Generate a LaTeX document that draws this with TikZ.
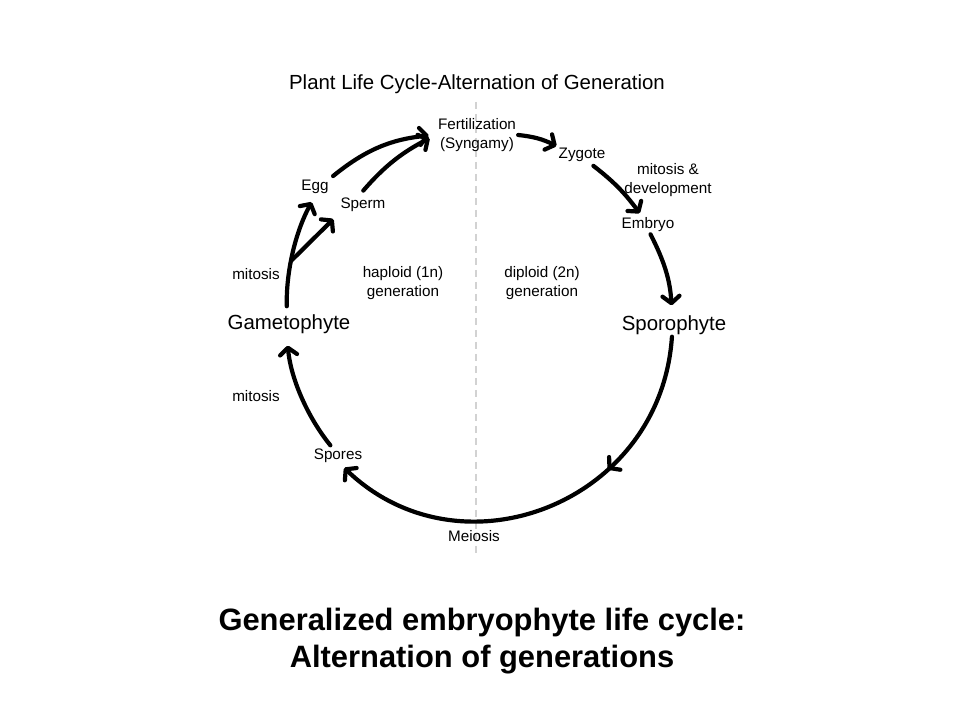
\documentclass[tikz,border=0pt]{standalone}
\usepackage{fontspec}
\setmainfont{Liberation Sans}
\usetikzlibrary{arrows.meta,decorations.markings}

\begin{document}
\begin{tikzpicture}[x=1bp, y=1bp,
        lbl/.style={inner sep=2bp, align=center, font=\fontsize{15.3}{18.4}\selectfont},
        big/.style={inner sep=2bp, font=\fontsize{20.5}{24.6}\selectfont},
        arr/.style={line width=4.2bp, line cap=round, -{Straight Barb[round, length=7bp, width=17bp]}},
        midarr/.style={postaction={decorate}, decoration={markings,
            mark=at position #1 with {\arrow{Straight Barb[round, length=7bp, width=17bp]}}}}]
        \useasboundingbox (0,0) rectangle (960,720);
        % divider between the two generations
        \draw[gray!35, line width=1.2bp, dash pattern=on 7bp off 5bp] (476,618) -- (476,164);
        \node[big] (title) at (477,636) {Plant Life Cycle-Alternation of Generation};
        \node[lbl] (fert) at (477,585) {Fertilization\\(Syngamy)};
        \node[lbl] (zyg) at (582,565) {Zygote};
        \node[lbl] (mitdev) at (668,540) {mitosis \&\\development};
        \node[lbl] (emb) at (648,495) {Embryo};
        \node[big] (sporo) at (674,395) {Sporophyte};
        \node[big] (gam) at (289,396) {Gametophyte};
        \node[lbl] (egg) at (315,533) {Egg};
        \node[lbl] (sperm) at (363,515) {Sperm};
        \node[lbl] (mit1) at (256,446) {mitosis};
        \node[lbl] (hap) at (403,437) {haploid (1n)\\generation};
        \node[lbl] (dip) at (542,437) {diploid (2n)\\generation};
        \node[lbl] (mit2) at (256,324) {mitosis};
        \node[lbl] (spores) at (338,264) {Spores};
        \node[lbl] (meio) at (474,184) {Meiosis};
        \node[align=center, font=\bfseries\fontsize{31}{37}\selectfont] (cap) at (482,79)
            {Generalized embryophyte life cycle:\\Alternation of generations};
        % haploid side
        \draw[arr, shorten <=6bp, shorten >=7bp] (gam.100) to[bend left=15, looseness=.87] coordinate[pos=.43] (fork) (egg.south);
        \draw[arr, shorten >=7bp] (fork) -- (sperm.south west);
        \draw[arr, shorten <=3bp, shorten >=7bp] (egg.north east) to[bend left=17] (fert.west);
        \draw[arr, shorten <=7bp, shorten >=7bp] (sperm.115) to[bend left=11] (fert.west);
        % diploid side
        \draw[arr] (fert.east) to[bend left=10] (zyg.north west);
        \draw[arr, shorten <=3bp, shorten >=3bp] (zyg.-45) to[bend left=8] (emb.125);
        \draw[arr, shorten >=8bp] (emb.-75) to[bend left=12] (sporo.100);
        \draw[arr, midarr=.34, shorten >=4bp] (sporo.-100) to[bend left=65, looseness=1.2] (spores.-70);
        \draw[arr, shorten <=2bp, shorten >=10bp] (spores.125) to[bend left=17, looseness=.87] (gam.-100);
    \end{tikzpicture}
\end{document}
